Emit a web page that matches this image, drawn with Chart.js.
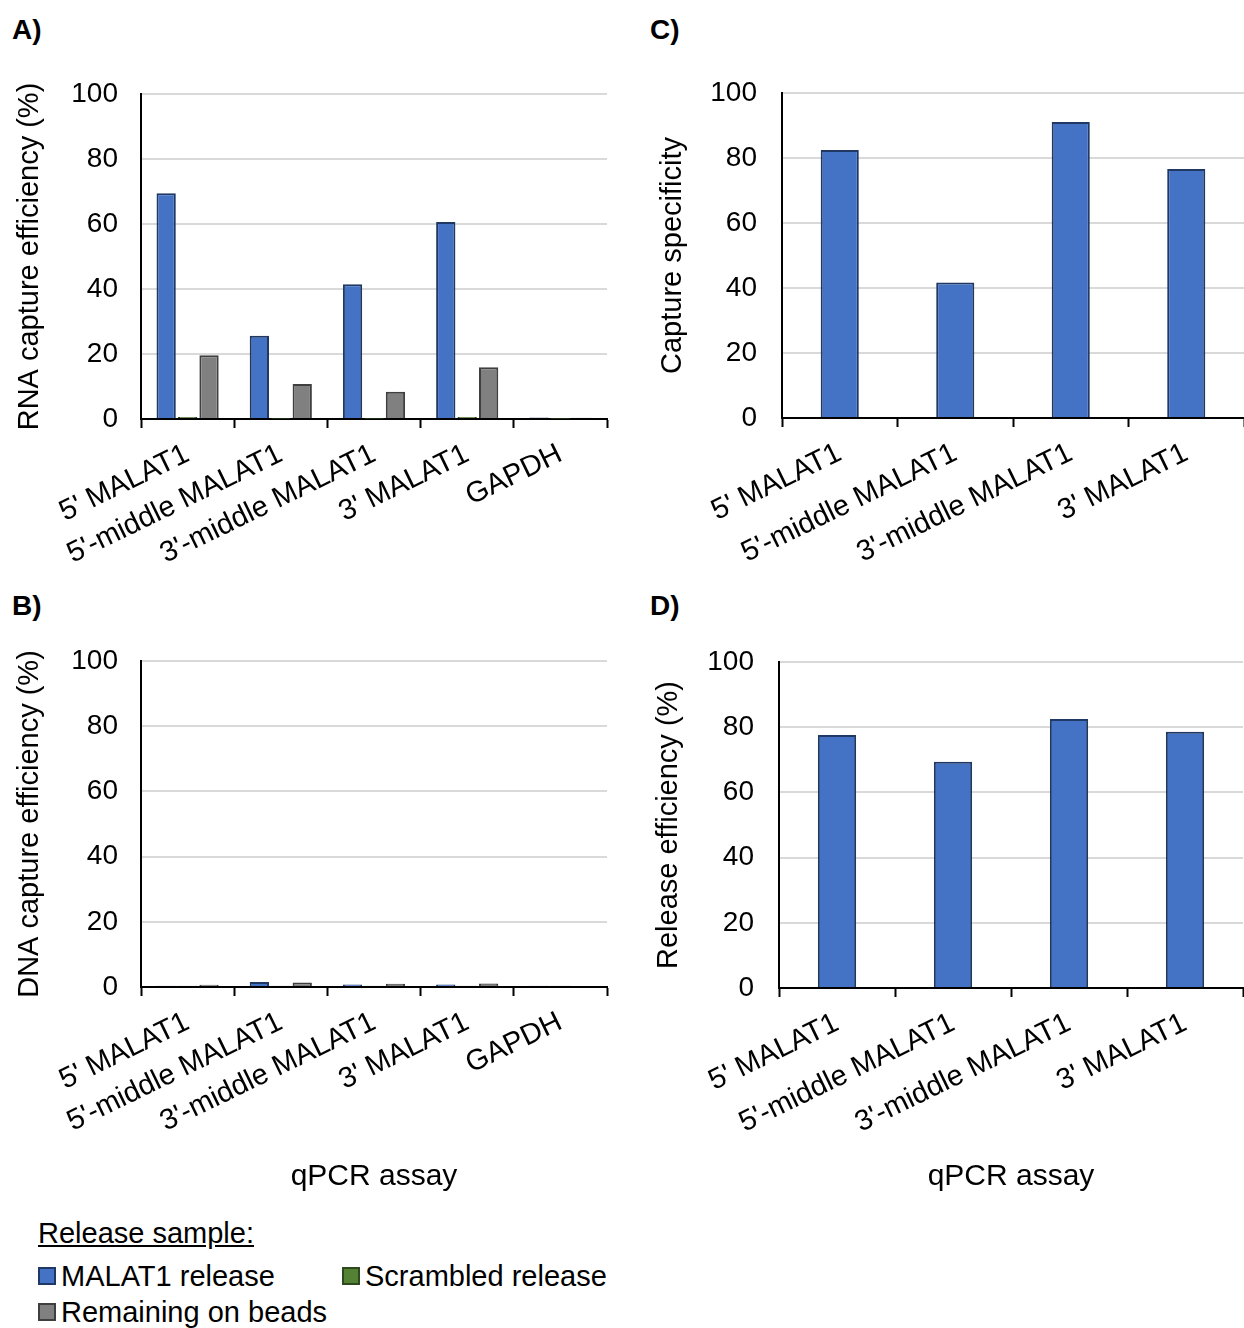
<!DOCTYPE html>
<html>
<head>
<meta charset="utf-8">
<script src="https://cdn.jsdelivr.net/npm/chart.js@4.4.1/dist/chart.umd.min.js"></script>
<style>
  html, body { margin: 0; padding: 0; background: #fff; }
  body { width: 1244px; height: 1328px; position: relative; overflow: hidden;
         font-family: "Liberation Sans", Arial, sans-serif; color: #000; }
  canvas { position: absolute; }
  .tag { position: absolute; font-weight: bold; font-size: 28px; line-height: 1; }
  #legend { position: absolute; left: 38px; top: 1219px; font-size: 29px; line-height: 1; }
  #legend .head { text-decoration: underline; margin-bottom: 10px; }
  #legend .row { display: flex; height: 36px; align-items: center; }
  #legend .item { display: flex; align-items: center; }
  #legend .sw { width: 14px; height: 14px; border: 2px solid; margin-right: 5px; }
</style>
</head>
<body>
<div class="tag" style="left:12px; top:16px;">A)</div>
<div class="tag" style="left:650px; top:16px;">C)</div>
<div class="tag" style="left:12px; top:592px;">B)</div>
<div class="tag" style="left:650px; top:592px;">D)</div>

<canvas id="chartA" width="625" height="510" style="left:0; top:70px;"></canvas>
<canvas id="chartB" width="625" height="560" style="left:0; top:640px;"></canvas>
<canvas id="chartC" width="614" height="510" style="left:630px; top:70px;"></canvas>
<canvas id="chartD" width="614" height="560" style="left:630px; top:640px;"></canvas>

<div id="legend"></div>

<script>
// qPCR assays
const assaysAll = ["5' MALAT1", "5'-middle MALAT1", "3'-middle MALAT1", "3' MALAT1", "GAPDH"];
const assaysMalat1 = ["5' MALAT1", "5'-middle MALAT1", "3'-middle MALAT1", "3' MALAT1"];

// Release samples
const seriesNames = ["MALAT1 release", "Scrambled release", "Remaining on beads"];

// A) RNA capture efficiency (%)
const rnaMalat1Release = [69.5, 25.6, 41.5, 60.6, 0.5];
const rnaScrambledRelease = [0.6, 0.1, 0.1, 0.6, 0.1];
const rnaRemainingOnBeads = [19.6, 10.8, 8.4, 15.9, 0.4];

// B) DNA capture efficiency (%)
const dnaMalat1Release = [0.4, 1.5, 0.8, 0.8, 0.4];
const dnaScrambledRelease = [0.4, 0.4, 0.4, 0.4, 0.4];
const dnaRemainingOnBeads = [0.7, 1.4, 1.0, 1.1, 0.3];

// C) Capture specificity
const captureSpecificity = [82.5, 41.7, 91.1, 76.6];

// D) Release efficiency (%)
const releaseEfficiency = [77.6, 69.4, 82.5, 78.6];

// y-axis ticks
const yTickValues = [0, 20, 40, 60, 80, 100];

const FONT = "'Liberation Sans', Arial, sans-serif";
const fills = ["#4472C4", "#548235", "#808080"];
const edges = ["#203864", "#2E4A1C", "#3F3F3F"];

function groupedSets(values) {
  return values.map((v, i) => ({
    label: seriesNames[i],
    data: v,
    backgroundColor: fills[i],
    borderColor: edges[i],
    borderWidth: 2,
    categoryPercentage: 0.69,
    barPercentage: 0.9
  }));
}

function singleSet(values) {
  return [{
    label: seriesNames[0],
    data: values,
    backgroundColor: fills[0],
    borderColor: edges[0],
    borderWidth: 2,
    categoryPercentage: 0.33,
    barPercentage: 1.0
  }];
}

function panel(id, labels, datasets, cfg) {
  new Chart(document.getElementById(id), {
    type: 'bar',
    data: { labels: labels, datasets: datasets },
    options: {
      responsive: false,
      animation: false,
      devicePixelRatio: 1,
      layout: { padding: { top: cfg.padTop, right: cfg.padRight, left: 0, bottom: 0 } },
      plugins: { legend: { display: false }, tooltip: { enabled: false } },
      scales: {
        x: {
          grid: { display: true, offset: true, drawOnChartArea: false, drawTicks: true,
                  tickLength: 9, tickWidth: 2, tickColor: '#000' },
          border: { display: true, color: '#000', width: 2 },
          ticks: { autoSkip: false, minRotation: 26, maxRotation: 26, padding: 9,
                   color: '#000', font: { family: FONT, size: 29 } },
          title: cfg.xTitle ? { display: true, text: cfg.xTitle, color: '#000',
                   font: { family: FONT, size: 30 }, padding: { top: 0, bottom: 5 } }
                 : { display: false },
          afterFit: s => { s.height = cfg.xHeight; }
        },
        y: {
          min: 0, max: 100,
          afterBuildTicks: s => { s.ticks = yTickValues.map(v => ({ value: v })); },
          // invisible tick marks keep the labels clear of the axis line
          grid: { color: '#d9d9d9', lineWidth: 2, drawTicks: true,
                  tickLength: cfg.yTickGap, tickColor: 'rgba(0,0,0,0)' },
          border: { display: true, color: '#000', width: 2 },
          ticks: { padding: 0, color: '#000', font: { family: FONT, size: 28 } },
          title: { display: true, text: cfg.yTitle, color: '#000',
                   font: { family: FONT, size: 29 }, padding: { top: cfg.yTitlePad, bottom: 0 } },
          afterFit: s => { s.width = cfg.yWidth; }
        }
      }
    }
  });
}

panel('chartA', assaysAll,
  groupedSets([rnaMalat1Release, rnaScrambledRelease, rnaRemainingOnBeads]),
  { padTop: 24, padRight: 18, xHeight: 161, yWidth: 141, yTickGap: 23, yTitlePad: 13,
    yTitle: 'RNA capture efficiency (%)' });

panel('chartB', assaysAll,
  groupedSets([dnaMalat1Release, dnaScrambledRelease, dnaRemainingOnBeads]),
  { padTop: 21, padRight: 18, xHeight: 213, yWidth: 141, yTickGap: 23, yTitlePad: 13,
    yTitle: 'DNA capture efficiency (%)', xTitle: 'qPCR assay' });

panel('chartC', assaysMalat1, singleSet(captureSpecificity),
  { padTop: 23, padRight: 0, xHeight: 162, yWidth: 152, yTickGap: 25, yTitlePad: 26,
    yTitle: 'Capture specificity' });

panel('chartD', assaysMalat1, singleSet(releaseEfficiency),
  { padTop: 22, padRight: 1, xHeight: 212, yWidth: 149, yTickGap: 25, yTitlePad: 22,
    yTitle: 'Release efficiency (%)', xTitle: 'qPCR assay' });

// Legend for the release samples
const legend = document.getElementById('legend');
function legendItem(i, width) {
  const item = document.createElement('div');
  item.className = 'item';
  if (width) item.style.width = width + 'px';
  const sw = document.createElement('span');
  sw.className = 'sw';
  sw.style.background = fills[i];
  sw.style.borderColor = edges[i];
  const txt = document.createElement('span');
  txt.textContent = seriesNames[i];
  item.appendChild(sw);
  item.appendChild(txt);
  return item;
}
const head = document.createElement('div');
head.className = 'head';
head.textContent = 'Release sample:';
legend.appendChild(head);
const row1 = document.createElement('div');
row1.className = 'row';
row1.appendChild(legendItem(0, 304));
row1.appendChild(legendItem(1));
legend.appendChild(row1);
const row2 = document.createElement('div');
row2.className = 'row';
row2.appendChild(legendItem(2));
legend.appendChild(row2);
</script>
</body>
</html>
